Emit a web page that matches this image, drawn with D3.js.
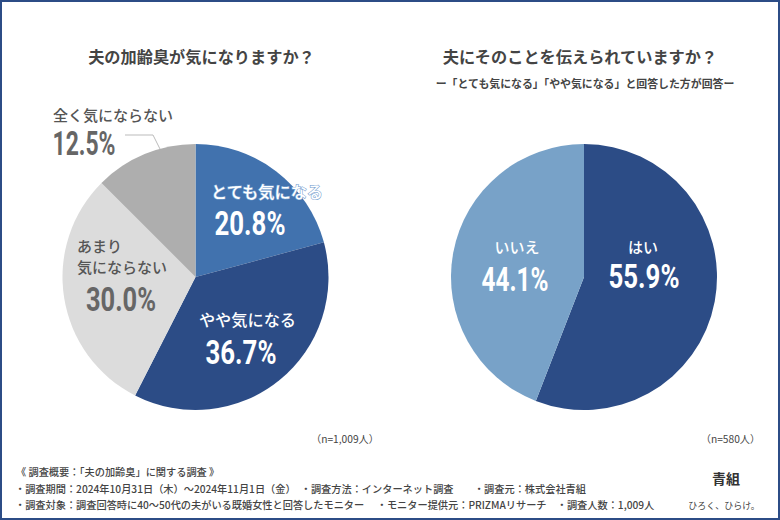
<!DOCTYPE html>
<html lang="ja"><head><meta charset="utf-8">
<script src="https://cdn.jsdelivr.net/npm/d3@7"></script>
<style>
html,body{margin:0;padding:0;background:#fff}
svg{display:block}
text{font-family:"Noto Sans CJK JP","Noto Sans",sans-serif}
text.num{font-family:Roboto,"Noto Sans",sans-serif}
</style></head><body>
<svg id="c" width="780" height="520"></svg>
<script>
const titleLeft = "夫の加齢臭が気になりますか？";
const titleRight = "夫にそのことを伝えられていますか？";
const subtitleRight = "ー「とても気になる」「やや気になる」と回答した方が回答ー";
const catsLeft = ["とても気になる","やや気になる","あまり気にならない","全く気にならない"];
const valsLeft = [20.8,36.7,30.0,12.5];
const colorsLeft = ["#4172ae","#2c4c86","#dcdcdc","#aeaeae"];
const catsRight = ["はい","いいえ"];
const valsRight = [55.9,44.1];
const colorsRight = ["#2c4c86","#78a2c8"];
const nLeft = "（n=1,009人）", nRight = "（n=580人）";
const notes = [
 "《 調査概要：「夫の加齢臭」に関する調査 》",
 "・調査期間：2024年10月31日（木）～2024年11月1日（金）　・調査方法：インターネット調査　　・調査元：株式会社青組",
 "・調査対象：調査回答時に40～50代の夫がいる既婚女性と回答したモニター　 ・モニター提供元：PRIZMAリサーチ　・調査人数：1,009人"
];
const svg = d3.select("#c");
svg.append("rect").attr("x",1).attr("y",1).attr("width",778).attr("height",518)
  .attr("fill","#fff").attr("stroke","#2c4c86").attr("stroke-width",2);
const R=133, cy=277;
const pie=d3.pie().sort(null).value(d=>d);
const arc=d3.arc().innerRadius(0).outerRadius(R);
function drawPie(cx,vals,cols){
  const g=svg.append("g").attr("transform",`translate(${cx},${cy})`);
  g.selectAll("path").data(pie(vals)).join("path").attr("d",arc).attr("fill",(d,i)=>cols[i]);
}
drawPie(195.5,valsLeft,colorsLeft);
drawPie(584,valsRight,colorsRight);
function label(x,y,t,size,fill,weight,anchor,len){
  const s=svg.append("text").attr("x",x).attr("y",y).text(t).attr("font-size",size)
   .attr("fill",fill).attr("font-weight",weight||400).attr("text-anchor",anchor||"middle");
  if(len) s.attr("class","num").attr("textLength",len).attr("lengthAdjust","spacingAndGlyphs");
  return s;
}
const fmt=v=>v.toFixed(1)+"%";
const grey="#555", dgrey="#666";
label(201.5,63,titleLeft,16.2,"#444",700);
label(580,63,titleRight,16.2,"#444",700);
label(585,88,subtitleRight,10.9,"#444",700);
// left labels
label(267,198,catsLeft[0],16.2,"#fff",500).attr("stroke","#7fa6d2").attr("stroke-width",1.2).attr("paint-order","stroke");
label(250,235,fmt(valsLeft[0]),32.5,"#fff",700,"middle",71);
label(247.5,326,catsLeft[1],16.2,"#fff",500);
label(241,364,fmt(valsLeft[1]),32.5,"#fff",700,"middle",71);
label(77,252,"あまり",15,grey,500,"start");
label(77,273,"気にならない",15,grey,500,"start");
label(121,311,fmt(valsLeft[2]),32.5,dgrey,700,"middle",70);
label(53,121,catsLeft[3],15,grey,500,"start");
label(84,155,fmt(valsLeft[3]),32.5,dgrey,700,"middle",63);
svg.append("path").attr("d",d3.line()([[125,135],[153,135],[160,149]])).attr("fill","none").attr("stroke","#aaa").attr("stroke-width",.8);
// right labels
label(643,253,catsRight[0],15,"#fff",500);
label(644,288,fmt(valsRight[0]),32.5,"#fff",700,"middle",71);
label(517,253,catsRight[1],15,"#fff",500);
label(515,291,fmt(valsRight[1]),32.5,"#fff",700,"middle",67);
label(345,443,nLeft,10.2,"#444",400);
label(730.5,443,nRight,10.2,"#444",400);
label(16,476,notes[0],10.2,"#444",500,"start");
label(15,493,notes[1],10.2,"#444",500,"start");
label(15,509,notes[2],10.2,"#444",500,"start");
label(726,484,"青組",14,"#333",700);
label(724,509,"ひろく、ひらけ。",9,"#444",400);
</script></body></html>
